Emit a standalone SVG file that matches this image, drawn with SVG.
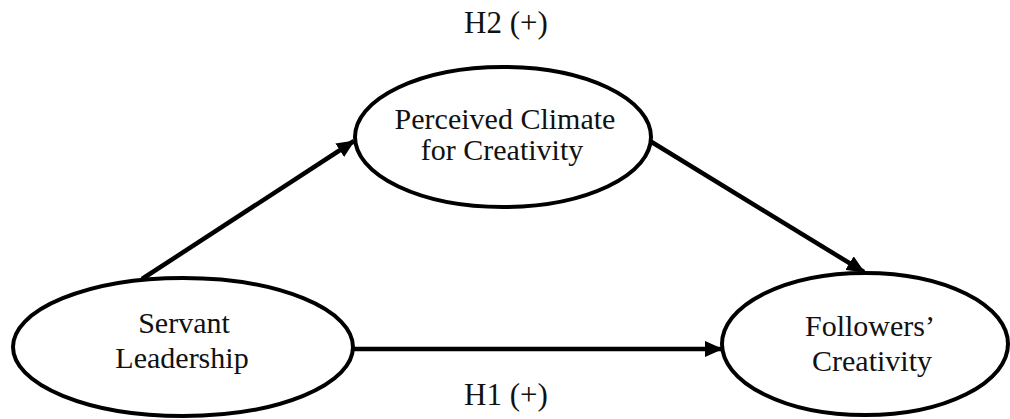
<svg xmlns="http://www.w3.org/2000/svg" width="1010" height="419" viewBox="0 0 1010 419">
<style>
.node ellipse{fill:#fff;stroke:#000;stroke-width:4}
.lbl{font-family:"Liberation Serif","Times New Roman",serif;font-size:30px;fill:#111;text-anchor:middle}
.hyp{font-size:31px}
.edge{stroke:#000;stroke-width:4.5;fill:none;marker-end:url(#ah)}
</style>
<defs>
<marker id="ah" markerUnits="userSpaceOnUse" markerWidth="18" markerHeight="16" refX="17" refY="8" orient="auto">
<path d="M0,0 L18,8 L0,16 Z" fill="#000"/>
</marker>
</defs>
<rect width="1010" height="419" fill="#fff"/>
<g id="connectors">
<line class="edge" x1="142" y1="279" x2="354" y2="141"/>
<line class="edge" x1="650" y1="141" x2="864" y2="272"/>
<line class="edge" x1="352" y1="349" x2="722" y2="349"/>
</g>
<g id="climate" class="node">
<ellipse cx="503" cy="137" rx="148" ry="70"/>
<text class="lbl" x="505" y="129">Perceived Climate</text>
<text class="lbl" x="502" y="160">for Creativity</text>
</g>
<g id="servant" class="node">
<ellipse cx="183" cy="347" rx="170" ry="69"/>
<text class="lbl" x="184" y="333">Servant</text>
<text class="lbl" x="182" y="368">Leadership</text>
</g>
<g id="followers" class="node">
<ellipse cx="865" cy="344" rx="143" ry="71"/>
<text class="lbl" x="870" y="336">Followers’</text>
<text class="lbl" x="872" y="371">Creativity</text>
</g>
<g id="labels">
<text class="lbl hyp" x="506" y="33">H2 (+)</text>
<text class="lbl hyp" x="506" y="405">H1 (+)</text>
</g>
</svg>
